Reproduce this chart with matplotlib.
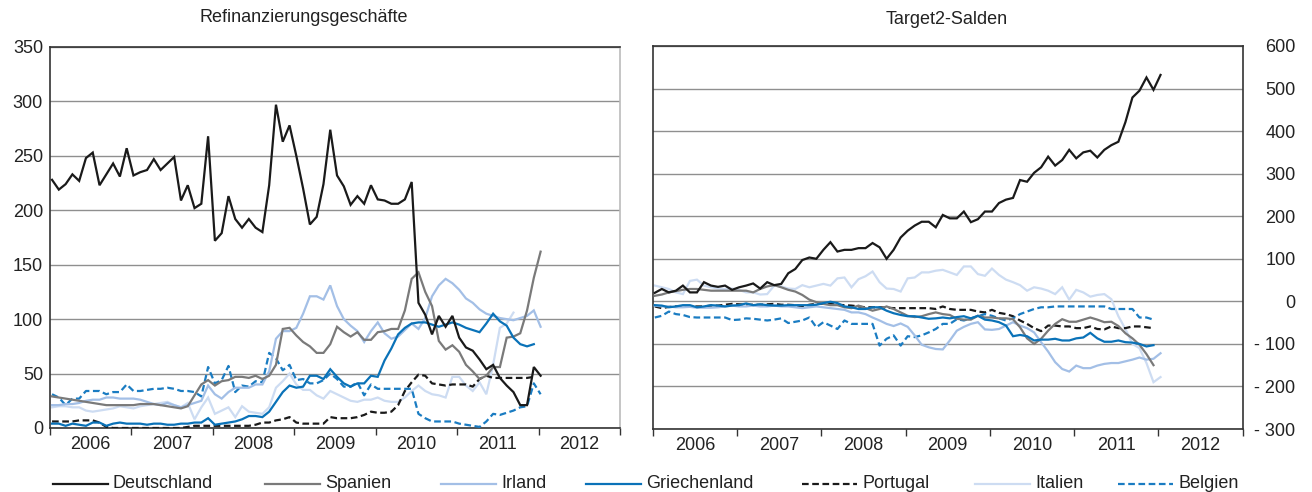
import numpy as np
import matplotlib
matplotlib.use("Agg")
import matplotlib.pyplot as plt
from matplotlib.lines import Line2D

plt.rcParams["font.family"] = ["Liberation Sans", "DejaVu Sans"]

# monthly values, Jan 2006 onwards
# --- Refinanzierungsgeschäfte (left panel) ---
de_refi = [228, 219, 224, 233, 227, 248, 253, 223, 233, 243, 231, 257, 232, 235, 237, 247,
           237, 243, 249, 209, 223, 202, 206, 268, 172, 179, 213, 192, 184, 192, 184, 180,
           223, 297, 263, 278, 250, 220, 187, 194, 224, 274, 232, 222, 205, 213, 206, 223,
           210, 209, 206, 206, 210, 226, 115, 104, 86, 103, 93, 103, 83, 74, 71, 63,
           54, 58, 46, 39, 33, 21, 21, 56, 48]
es_refi = [29, 28, 27, 26, 25, 24, 23, 22, 21, 21, 21, 21, 21, 22, 22, 22,
           21, 20, 19, 18, 20, 30, 40, 44, 39, 43, 44, 47, 47, 46, 48, 45,
           48, 58, 91, 92, 85, 79, 75, 69, 69, 77, 93, 88, 84, 88, 81, 81,
           88, 89, 91, 91, 108, 137, 143, 125, 112, 80, 72, 76, 70, 58, 52, 45,
           48, 56, 56, 83, 84, 87, 108, 138, 162]
ie_refi = [21, 21, 22, 22, 23, 25, 26, 26, 28, 28, 27, 27, 27, 26, 24, 22,
           21, 23, 21, 19, 21, 23, 25, 39, 31, 27, 33, 37, 37, 37, 40, 40,
           52, 82, 89, 89, 92, 105, 121, 121, 118, 131, 112, 100, 94, 89, 79, 89,
           97, 87, 82, 84, 90, 96, 91, 101, 121, 131, 137, 133, 127, 119, 115, 109,
           105, 103, 101, 100, 99, 101, 103, 108, 93]
gr_refi = [4, 4, 2, 4, 3, 2, 5, 5, 2, 4, 5, 4, 4, 4, 3, 4,
           4, 3, 3, 4, 4, 5, 5, 9, 3, 4, 5, 6, 8, 11, 11, 10,
           15, 24, 33, 39, 37, 38, 48, 48, 45, 54, 47, 41, 38, 41, 41, 48,
           47, 62, 73, 86, 92, 96, 97, 97, 95, 93, 95, 97, 95, 92, 90, 88,
           96, 105, 98, 94, 83, 77, 75, 77]
pt_refi = [6, 6, 6, 6, 7, 7, 7, 5, 1, 0, 0, 0, 0, 0, 0, 0,
           0, 0, 0, 0, 1, 2, 2, 2, 2, 2, 2, 2, 2, 2, 3, 5,
           5, 7, 8, 10, 5, 4, 4, 4, 4, 10, 9, 9, 9, 10, 12, 15,
           14, 14, 15, 21, 34, 42, 49, 48, 41, 40, 39, 40, 40, 40, 38, 45,
           48, 46, 46, 46, 46, 46, 46, 47]
it_refi = [19, 20, 20, 19, 19, 16, 15, 16, 17, 18, 20, 19, 18, 20, 21, 22,
           23, 24, 21, 19, 23, 8, 19, 28, 13, 16, 19, 10, 20, 15, 14, 13,
           19, 37, 43, 50, 40, 35, 35, 30, 27, 34, 31, 28, 25, 24, 26, 26,
           28, 25, 24, 24, 28, 34, 39, 34, 31, 30, 28, 47, 47, 39, 34, 42,
           31, 58, 92, 96, 106]
be_refi = [31, 28, 21, 27, 27, 34, 34, 34, 31, 33, 33, 40, 34, 34, 35, 36,
           36, 37, 36, 34, 34, 33, 29, 56, 41, 44, 57, 33, 39, 38, 43, 42,
           69, 64, 53, 58, 44, 45, 41, 41, 44, 50, 45, 38, 38, 42, 30, 40,
           36, 36, 36, 36, 36, 36, 13, 9, 6, 6, 6, 6, 4, 3, 2, 1,
           6, 13, 12, 14, 16, 19, 20, 41, 31]

# --- Target2-Salden (right panel) ---
de_t2 = [20, 29, 21, 25, 37, 21, 21, 45, 37, 34, 37, 27, 33, 37, 42, 30,
         45, 38, 41, 66, 76, 97, 103, 100, 121, 139, 117, 121, 121, 125, 125, 137,
         127, 100, 121, 150, 166, 178, 187, 187, 174, 203, 195, 195, 211, 186, 193, 211,
         211, 231, 239, 243, 285, 281, 302, 315, 340, 319, 332, 356, 336, 350, 354, 338,
         356, 367, 375, 421, 479, 495, 526, 497, 532]
es_t2 = [13, 16, 21, 24, 27, 29, 29, 27, 25, 25, 25, 25, 25, 25, 21, 29,
         35, 38, 33, 27, 23, 15, 4, -2, -6, -9, -9, -14, -16, -10, -16, -22,
         -18, -12, -18, -26, -34, -37, -35, -30, -26, -30, -32, -41, -43, -43, -34, -38,
         -38, -40, -40, -42, -61, -87, -100, -88, -69, -53, -42, -48, -48, -43, -38, -43,
         -49, -48, -58, -75, -87, -102, -124, -150]
ie_t2 = [-10, -12, -12, -14, -14, -13, -15, -15, -15, -14, -12, -10, -12, -12, -10, -12,
         -12, -10, -12, -12, -14, -16, -14, -12, -14, -16, -18, -20, -26, -26, -30, -38,
         -45, -53, -58, -52, -60, -80, -102, -108, -112, -113, -92, -69, -60, -53, -49, -66,
         -67, -65, -57, -49, -57, -63, -73, -96, -118, -143, -159, -165, -151, -157, -157, -151,
         -147, -145, -145, -141, -137, -132, -137, -135, -122]
gr_t2 = [-9, -10, -14, -12, -9, -9, -14, -12, -9, -10, -12, -10, -9, -5, -9, -7,
         -9, -10, -10, -9, -9, -9, -9, -8, -4, -1, -4, -12, -14, -18, -18, -14,
         -14, -22, -28, -32, -35, -35, -38, -41, -40, -38, -40, -37, -35, -40, -34, -43,
         -45, -49, -57, -82, -79, -82, -92, -90, -90, -88, -92, -92, -87, -85, -74, -87,
         -95, -95, -92, -96, -97, -100, -106, -103]
pt_t2 = [-12, -16, -13, -12, -12, -12, -12, -12, -10, -10, -8, -6, -7, -8, -8, -8,
         -7, -6, -8, -8, -9, -12, -8, -6, -6, -6, -8, -9, -10, -12, -14, -14,
         -14, -15, -16, -16, -16, -16, -16, -16, -18, -12, -18, -20, -20, -20, -24, -26,
         -20, -27, -30, -35, -45, -53, -63, -70, -57, -57, -59, -59, -63, -63, -59, -65,
         -66, -59, -63, -63, -59, -59, -61, -63]
it_t2 = [37, 33, 29, 21, 17, 48, 51, 37, 33, 30, 29, 30, 27, 21, 21, 16,
         17, 37, 35, 30, 29, 38, 33, 37, 41, 37, 54, 56, 33, 52, 59, 70,
         45, 30, 29, 23, 54, 56, 68, 68, 72, 74, 68, 62, 82, 82, 64, 60,
         77, 62, 51, 45, 38, 25, 33, 30, 25, 17, 33, 4, 27, 21, 11, 15,
         17, 5, -35, -65, -100, -110, -145, -190, -178]
be_t2 = [-38, -34, -24, -30, -32, -37, -38, -38, -38, -38, -38, -44, -43, -40, -41, -43,
         -45, -43, -40, -51, -48, -45, -38, -61, -49, -57, -65, -45, -53, -53, -53, -53,
         -104, -88, -80, -104, -82, -84, -80, -73, -65, -53, -53, -42, -45, -40, -35, -30,
         -34, -40, -45, -40, -30, -24, -18, -14, -14, -12, -12, -12, -12, -12, -12, -12,
         -12, -18, -18, -18, -18, -38, -38, -43]

names = ["Deutschland", "Spanien", "Irland", "Griechenland", "Portugal", "Italien", "Belgien"]
years = list(range(2006, 2013))

colors = ["#1a1a1a", "#7a7a7a", "#a3bfe6", "#0a72b8", "#1a1a1a", "#cddcf2", "#1a7cc2"]
styles = ["-", "-", "-", "-", (0, (3, 1.6)), "-", (0, (3, 1.6))]
zorder = [7, 5, 4, 6, 3, 2, 3]

left_series = [de_refi, es_refi, ie_refi, gr_refi, pt_refi, it_refi, be_refi]
right_series = [de_t2, es_t2, ie_t2, gr_t2, pt_t2, it_t2, be_t2]

W, H = 1312, 492
fig = plt.figure(figsize=(W / 100, H / 100), dpi=100)

axL = fig.add_axes([50 / W, 1 - 428 / H, 570 / W, 381 / H])
axR = fig.add_axes([652.7 / W, 1 - 429 / H, 590 / W, 383 / H])


def xpos(n):
    return 2006 + (np.arange(n) + 0.3) / 12


for ax, series in [(axL, left_series), (axR, right_series)]:
    for vals, c, ls, z in zip(series, colors, styles, zorder):
        ax.plot(xpos(len(vals)), vals, color=c, lw=1.6, ls=ls, zorder=z,
                solid_joinstyle="miter")
    ax.set_xlim(2006, 2013)
    ax.set_xticks(range(2006, 2014))
    ax.set_xticklabels([])
    ax.set_xticks([y + 0.5 for y in years], minor=True)
    ax.set_xticklabels([str(y) for y in years], minor=True)
    ax.tick_params(axis="x", which="major", length=5, width=1, color="#333333", direction="out")
    ax.tick_params(axis="x", which="minor", length=0, pad=6, labelsize=13, labelcolor="#222222")
    ax.tick_params(axis="y", length=0, labelsize=13, labelcolor="#222222")
    ax.grid(axis="y", color="#8f8f8f", lw=1, zorder=0)
    ax.set_axisbelow(True)
    for s in ax.spines.values():
        s.set_color("#333333")
        s.set_linewidth(1.2)

axL.set_ylim(0, 350)
axL.set_yticks(range(0, 351, 50))
axL.tick_params(axis="y", pad=5)
axL.spines["right"].set_color("#bbbbbb")

axR.set_ylim(-300, 600)
rticks = list(range(-300, 601, 100))
axR.set_yticks(rticks)
axR.set_yticklabels([("- " + str(-t)) if t < 0 else str(t) for t in rticks])
axR.yaxis.tick_right()
axR.tick_params(axis="y", pad=38)
for lab in axR.get_yticklabels():
    lab.set_horizontalalignment("right")

fig.text(304 / W, 1 - 18 / H, "Refinanzierungsgeschäfte", ha="center", va="center",
         fontsize=13, color="#222222")
fig.text(947 / W, 1 - 19 / H, "Target2-Salden", ha="center", va="center",
         fontsize=13, color="#222222")

# legend placed by hand along the bottom edge
leg_x = [53, 265, 441, 586, 802, 975, 1118]
ly = 1 - 484 / H
for x0, name, c, ls in zip(leg_x, names, colors, styles):
    fig.add_artist(Line2D([x0 / W, (x0 + 55) / W], [ly, ly], color=c, lw=1.6, ls=ls))
    fig.text((x0 + 60) / W, ly, name, ha="left", va="center", fontsize=13, color="#222222")

fig.savefig("out.png", dpi=100)
